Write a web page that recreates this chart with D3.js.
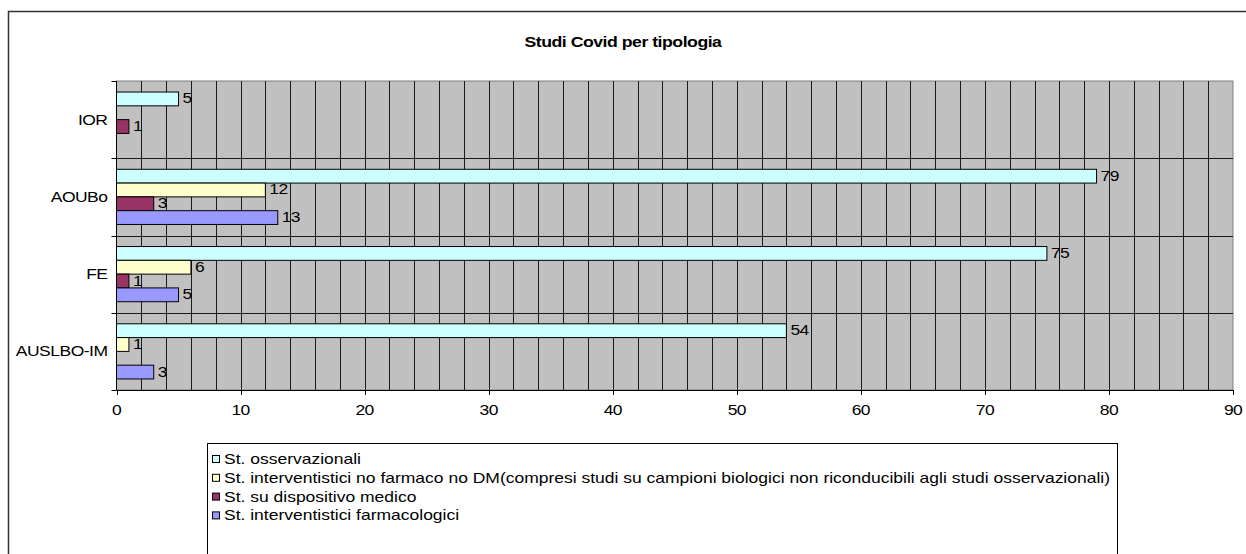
<!DOCTYPE html>
<html>
<head>
<meta charset="utf-8">
<script src="https://cdn.jsdelivr.net/npm/d3@7"></script>
<style>
  html, body { margin: 0; padding: 0; background: #fff; }
  svg { display: block; font-family: "Liberation Sans", Arial, sans-serif; }
</style>
</head>
<body>
<svg id="chart" width="1246" height="554"></svg>
<script>
const title = "Studi Covid per tipologia";
const categories = ["IOR", "AOUBo", "FE", "AUSLBO-IM"];
const seriesNames = [
  "St. osservazionali",
  "St. interventistici no farmaco no DM(compresi studi su campioni biologici non riconducibili agli studi osservazionali)",
  "St. su dispositivo medico",
  "St. interventistici farmacologici"
];
const osservazionali = [5, 79, 75, 54];
const noFarmacoNoDM = [null, 12, 6, 1];
const dispositivo = [1, 3, 1, null];
const farmacologici = [null, 13, 5, 3];
const xTicks = [0, 10, 20, 30, 40, 50, 60, 70, 80, 90];
const colors = ["#CCFFFF", "#FFFFCC", "#993366", "#9999FF"];

const seriesValues = [osservazionali, noFarmacoNoDM, dispositivo, farmacologici];

const svg = d3.select("#chart");
const plot = { left: 116.5, right: 1233, top: 81, bottom: 390 };
const SX = 1.25; // horizontal stretch of the original rendering

function addText(parent, x, y, str, opts = {}) {
  const g = parent.append("g").attr("transform", `translate(${x},${y}) scale(${opts.sx || SX},1)`);
  g.append("text").attr("x", 0).attr("y", 0)
    .attr("text-anchor", opts.anchor || "start")
    .attr("font-size", opts.size || 14)
    .attr("font-weight", opts.weight || "normal")
    .attr("letter-spacing", opts.ls != null ? opts.ls : -0.3)
    .attr("fill", "#000")
    .text(str);
  return g;
}

// outer frame
svg.append("rect").attr("x", 8.5).attr("y", 11.5).attr("width", 1260).attr("height", 600)
  .attr("fill", "#fff").attr("stroke", "#333").attr("stroke-width", 1.5);

// title
addText(svg, 623, 47, title, { anchor: "middle", size: 14.5, weight: "bold", sx: 1.22, ls: -0.4 });

const x = d3.scaleLinear().domain([0, 90]).range([plot.left, plot.right]);
const y = d3.scaleBand().domain(categories).range([plot.top, plot.bottom]).paddingInner(0).paddingOuter(0);
const ys = d3.scaleBand().domain(d3.range(seriesNames.length)).range([0, y.bandwidth()]).paddingInner(0).paddingOuter(0.8);

// background
svg.append("rect").attr("x", plot.left).attr("y", plot.top)
  .attr("width", plot.right - plot.left).attr("height", plot.bottom - plot.top)
  .attr("fill", "#C0C0C0").attr("stroke", "#808080").attr("stroke-width", 1);

// vertical gridlines every 2
const gridVals = d3.range(2, 90, 2);
svg.append("g").selectAll("line").data(gridVals).join("line")
  .attr("x1", d => Math.round(x(d)) + 0.5).attr("x2", d => Math.round(x(d)) + 0.5)
  .attr("y1", plot.top).attr("y2", plot.bottom)
  .attr("stroke", "#1a1a1a").attr("stroke-width", 1);

// horizontal category separators
const seps = categories.slice(1);
svg.append("g").selectAll("line").data(seps).join("line")
  .attr("x1", plot.left).attr("x2", plot.right)
  .attr("y1", d => Math.round(y(d)) + 0.5).attr("y2", d => Math.round(y(d)) + 0.5)
  .attr("stroke", "#1a1a1a").attr("stroke-width", 1);

// y axis line and ticks
const yBounds = categories.map(c => y(c)).concat([plot.bottom]);
svg.append("line").attr("x1", plot.left).attr("x2", plot.left).attr("y1", plot.top).attr("y2", plot.bottom)
  .attr("stroke", "#000").attr("stroke-width", 1);
svg.append("g").selectAll("line").data(yBounds).join("line")
  .attr("x1", plot.left - 5).attr("x2", plot.left)
  .attr("y1", d => Math.round(d) + 0.5).attr("y2", d => Math.round(d) + 0.5)
  .attr("stroke", "#000");

// category labels
const catG = svg.append("g");
categories.forEach(c => addText(catG, plot.left - 9, y(c) + y.bandwidth() / 2 + 5, c, { anchor: "end", ls: -0.4 }));

// x axis
svg.append("line").attr("x1", plot.left).attr("x2", plot.right).attr("y1", plot.bottom + 0.5).attr("y2", plot.bottom + 0.5)
  .attr("stroke", "#000");
svg.append("g").selectAll("line").data(xTicks).join("line")
  .attr("x1", d => Math.round(x(d)) + 0.5).attr("x2", d => Math.round(x(d)) + 0.5)
  .attr("y1", plot.bottom).attr("y2", plot.bottom + 5).attr("stroke", "#000");
const xtG = svg.append("g");
xTicks.forEach(t => addText(xtG, x(t), plot.bottom + 25, String(t), { anchor: "middle", ls: -0.5 }));

// bars
const barData = [];
categories.forEach((c, ci) => {
  seriesValues.forEach((vals, si) => {
    if (vals[ci] != null) barData.push({ c, si, v: vals[ci] });
  });
});
svg.append("g").selectAll("rect").data(barData).join("rect")
  .attr("x", x(0)).attr("y", d => y(d.c) + ys(d.si))
  .attr("width", d => x(d.v) - x(0)).attr("height", ys.bandwidth())
  .attr("fill", d => colors[d.si]).attr("stroke", "#000").attr("stroke-width", 1);

const lblG = svg.append("g");
barData.forEach(d => addText(lblG, x(d.v) + 4, y(d.c) + ys(d.si) + ys.bandwidth() / 2 + 4.5, String(d.v), { ls: -0.5 }));

// legend
const lg = svg.append("g");
lg.append("rect").attr("x", 207.5).attr("y", 443.5).attr("width", 910).attr("height", 130)
  .attr("fill", "#fff").attr("stroke", "#000").attr("stroke-width", 1);
seriesNames.forEach((name, i) => {
  const cy = 459 + i * 18.8;
  lg.append("rect").attr("x", 212.5).attr("y", cy - 3.5).attr("width", 7).attr("height", 7)
    .attr("fill", colors[i]).attr("stroke", "#000").attr("stroke-width", 1);
  addText(lg, 224, cy + 5, name, { ls: 0 });
});
</script>
</body>
</html>
